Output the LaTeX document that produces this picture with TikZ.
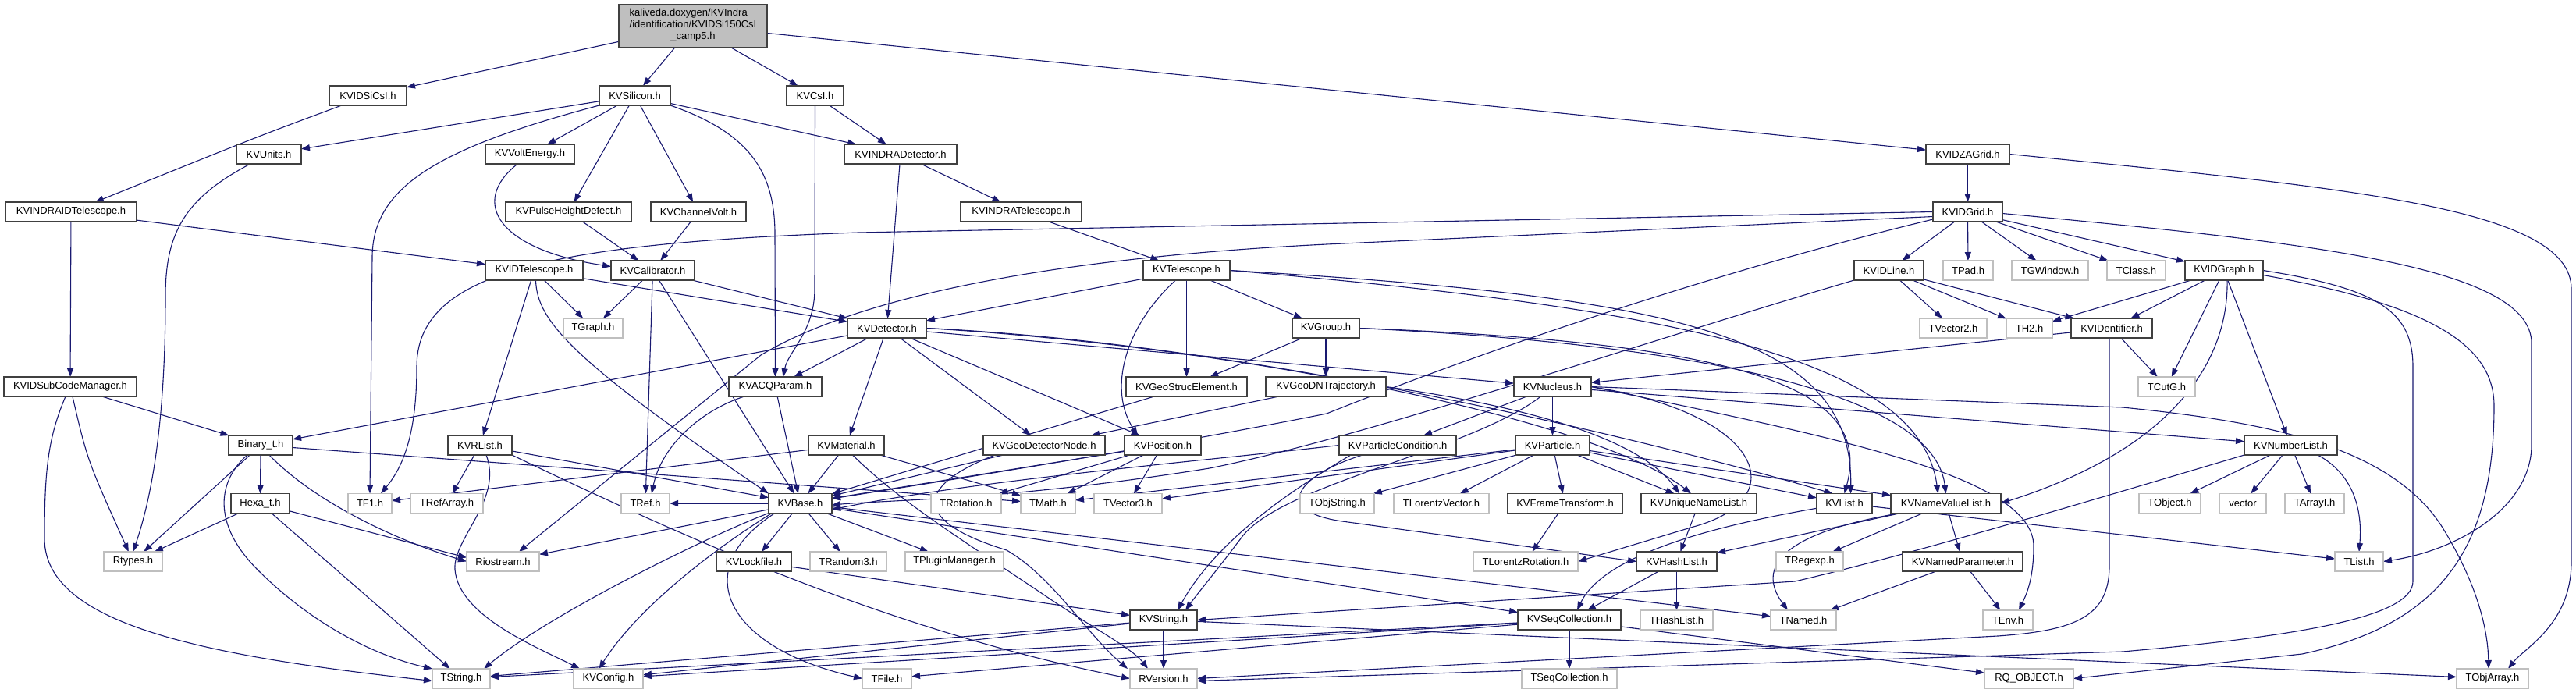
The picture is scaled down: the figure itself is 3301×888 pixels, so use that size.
\documentclass[tikz,border=0pt]{standalone}
\usepackage{fontspec}
\setmainfont{Liberation Sans}
\usetikzlibrary{arrows.meta,calc}
\definecolor{edgec}{HTML}{191970}
\definecolor{sysgray}{HTML}{BFBFBF}
\definecolor{kvdark}{HTML}{404040}
\pgfdeclarelayer{background}
\pgfsetlayers{background,main}
\newcommand{\mkn}[6]{%
  \pgfmathsetmacro{\mknw}{#3-#2}%
  \pgfmathsetmacro{\mknx}{(#2+#3)/2}%
  \node[#6, minimum width=\mknw pt] (#1) at (\mknx,#4) {#5};}
\begin{document}
\begin{tikzpicture}[x=1pt,y=-1pt,
  every node/.style={font=\fontsize{13}{15}\selectfont},
  kvn/.style={draw=kvdark, fill=white, line width=1.2pt, minimum height=25pt, inner sep=0pt, outer sep=0pt},
  sysn/.style={draw=sysgray, fill=white, line width=1.2pt, minimum height=25pt, inner sep=0pt, outer sep=0pt},
  lnk/.style={draw=edgec, line width=1.1pt, -{Triangle[length=11pt,width=8pt]}}]
\useasboundingbox (0,0) rectangle (3301,888);
\node[draw=kvdark, fill=sysgray, line width=1.2pt, minimum width=190pt, minimum height=55pt, inner sep=0pt] (main) at (888,33)
 {\begin{tabular}{@{}l@{}}kaliveda.doxygen/KVIndra\\/identification/KVIDSi150CsI\\\multicolumn{1}{@{}c@{}}{\_camp5.h}\end{tabular}};
% row 1
\mkn{sicsi}{422}{521}{122.5}{KVIDSiCsI.h}{kvn}
\mkn{silicon}{768}{859}{122.5}{KVSilicon.h}{kvn}
\mkn{csi}{1008}{1081}{122.5}{KVCsI.h}{kvn}
% row 2
\mkn{units}{303}{386}{197.5}{KVUnits.h}{kvn}
\mkn{volt}{622}{736}{197.5}{KVVoltEnergy.h}{kvn}
\mkn{indradet}{1082}{1226}{197.5}{KVINDRADetector.h}{kvn}
\mkn{zagrid}{2468}{2575}{197.5}{KVIDZAGrid.h}{kvn}
% row 3
\mkn{indraidtel}{7}{175}{271.5}{KVINDRAIDTelescope.h}{kvn}
\mkn{phd}{648}{809}{271.5}{KVPulseHeightDefect.h}{kvn}
\mkn{chvolt}{834}{956}{271.5}{KVChannelVolt.h}{kvn}
\mkn{indratel}{1231}{1386}{271.5}{KVINDRATelescope.h}{kvn}
\mkn{idgrid}{2477}{2566}{271.5}{KVIDGrid.h}{kvn}
% row 4
\mkn{idtel}{622}{747}{346.5}{KVIDTelescope.h}{kvn}
\mkn{calib}{783}{890}{346.5}{KVCalibrator.h}{kvn}
\mkn{tel}{1465}{1576}{346.5}{KVTelescope.h}{kvn}
\mkn{idline}{2376}{2465}{346.5}{KVIDLine.h}{kvn}
\mkn{tpad}{2490}{2554}{346.5}{TPad.h}{sysn}
\mkn{tgwin}{2578}{2676}{346.5}{TGWindow.h}{sysn}
\mkn{tclass}{2700}{2775}{346.5}{TClass.h}{sysn}
\mkn{idgraph}{2800}{2900}{346.5}{KVIDGraph.h}{kvn}
% row 5
\mkn{tgraph}{722}{798}{420.5}{TGraph.h}{sysn}
\mkn{det}{1086}{1187}{420.5}{KVDetector.h}{kvn}
\mkn{group}{1656}{1742}{420.5}{KVGroup.h}{kvn}
\mkn{tvec2}{2460}{2546}{420.5}{TVector2.h}{sysn}
\mkn{th2}{2571}{2630}{420.5}{TH2.h}{sysn}
\mkn{ident}{2654}{2758}{420.5}{KVIDentifier.h}{kvn}
% row 6
\mkn{subcode}{5}{175}{495.5}{KVIDSubCodeManager.h}{kvn}
\mkn{acq}{934}{1053}{495.5}{KVACQParam.h}{kvn}
\mkn{geostruc}{1443}{1598}{495.5}{KVGeoStrucElement.h}{kvn}
\mkn{geodn}{1622}{1776}{495.5}{KVGeoDNTrajectory.h}{kvn}
\mkn{nucleus}{1940}{2039}{495.5}{KVNucleus.h}{kvn}
\mkn{tcutg}{2740}{2813}{495.5}{TCutG.h}{sysn}
% row 7
\mkn{binary}{293}{375}{570.5}{Binary\_t.h}{kvn}
\mkn{rlist}{574}{656}{570.5}{KVRList.h}{kvn}
\mkn{material}{1036}{1133}{570.5}{KVMaterial.h}{kvn}
\mkn{geodetnode}{1260}{1416}{570.5}{KVGeoDetectorNode.h}{kvn}
\mkn{position}{1441}{1539}{570.5}{KVPosition.h}{kvn}
\mkn{partcond}{1716}{1866}{570.5}{KVParticleCondition.h}{kvn}
\mkn{particle}{1942}{2037}{570.5}{KVParticle.h}{kvn}
\mkn{numlist}{2876}{2995}{570.5}{KVNumberList.h}{kvn}
% row 8
\mkn{hexa}{296}{371}{645}{Hexa\_t.h}{kvn}
\mkn{tf1}{446}{502}{645}{TF1.h}{sysn}
\mkn{trefarr}{526}{619}{645}{TRefArray.h}{sysn}
\mkn{tref}{796}{858}{645}{TRef.h}{sysn}
\mkn{base}{985}{1066}{645}{KVBase.h}{kvn}
\mkn{trot}{1193}{1283}{645}{TRotation.h}{sysn}
\mkn{tmath}{1308}{1378}{645}{TMath.h}{sysn}
\mkn{tvec3}{1402}{1489}{645}{TVector3.h}{sysn}
\mkn{tobjstr}{1666}{1761}{645}{TObjString.h}{sysn}
\mkn{tlorvec}{1786}{1908}{645}{TLorentzVector.h}{sysn}
\mkn{frame}{1932}{2079}{645}{KVFrameTransform.h}{kvn}
\mkn{uniq}{2103}{2251}{645}{KVUniqueNameList.h}{kvn}
\mkn{kvlist}{2328}{2399}{645}{KVList.h}{kvn}
\mkn{nvl}{2423}{2564}{645}{KVNameValueList.h}{kvn}
\mkn{tobject}{2741}{2820}{645}{TObject.h}{sysn}
\mkn{vector}{2844}{2904}{645}{vector}{sysn}
\mkn{tarrayi}{2928}{3004}{645}{TArrayI.h}{sysn}
% row 9
\mkn{rtypes}{133}{208}{719.5}{Rtypes.h}{sysn}
\mkn{riostream}{598}{691}{719.5}{Riostream.h}{sysn}
\mkn{lockfile}{918}{1014}{719.5}{KVLockfile.h}{kvn}
\mkn{trandom}{1038}{1136}{719.5}{TRandom3.h}{sysn}
\mkn{tplugin}{1160}{1286}{719.5}{TPluginManager.h}{sysn}
\mkn{tlorrot}{1888}{2022}{719.5}{TLorentzRotation.h}{sysn}
\mkn{hashlist}{2097}{2200}{719.5}{KVHashList.h}{kvn}
\mkn{tregexp}{2276}{2362}{719.5}{TRegexp.h}{sysn}
\mkn{namedpar}{2438}{2592}{719.5}{KVNamedParameter.h}{kvn}
\mkn{tlist}{2992}{3054}{719.5}{TList.h}{sysn}
% row 10
\mkn{kvstring}{1448}{1534}{794.5}{KVString.h}{kvn}
\mkn{seqcoll}{1945}{2077}{794.5}{KVSeqCollection.h}{kvn}
\mkn{thashlist}{2102}{2195}{794.5}{THashList.h}{sysn}
\mkn{tnamed}{2269}{2353}{794.5}{TNamed.h}{sysn}
\mkn{tenv}{2541}{2605}{794.5}{TEnv.h}{sysn}
% row 11
\mkn{tstring}{554}{628}{869.5}{TString.h}{sysn}
\mkn{kvconfig}{735}{824}{869.5}{KVConfig.h}{sysn}
\mkn{tfile}{1105}{1168}{869.5}{TFile.h}{sysn}
\mkn{rversion}{1448}{1534}{869.5}{RVersion.h}{sysn}
\mkn{tseq}{1950}{2072}{869.5}{TSeqCollection.h}{sysn}
\mkn{rqobj}{2543}{2657}{869.5}{RQ\_OBJECT.h}{sysn}
\mkn{tobjarr}{3148}{3240}{869.5}{TObjArray.h}{sysn}

\begin{pgfonlayer}{background}
% main
\draw[lnk] (main) -- (sicsi);
\draw[lnk] (main) -- (silicon);
\draw[lnk] (main) -- (csi);
\draw[lnk] (main) -- (zagrid);
\draw[lnk] (sicsi) .. controls (330,175) .. (indraidtel);
\draw[lnk] (indraidtel) -- (subcode);
\draw[lnk] (indraidtel) -- (idtel);
% KVSilicon
\draw[lnk] (silicon) -- (units);
\draw[lnk] (silicon.south west) .. controls (560,190) and (477,240) .. (477,330) -- (tf1.north);
\draw[lnk] (silicon) -- (volt);
\draw[lnk] (silicon) -- (phd);
\draw[lnk] (silicon) -- (chvolt);
\draw[lnk] (silicon.south east) .. controls (960,170) and (993,220) .. (993,300) -- (acq.north);
\draw[lnk] (silicon) -- (indradet);
% KVCsI
\draw[lnk] (csi.south) -- (1044,370) .. controls (1044,425) and (1010,450) .. ($(acq.north)+(10,0)$);
\draw[lnk] (csi) -- (indradet);
% units, volt etc
\draw[lnk] (units) .. controls (235,255) and (212,300) .. (212,380) .. controls (212,560) and (190,650) .. (rtypes.north);
\draw[lnk] (volt) .. controls (600,260) and (640,320) .. ($(calib.west)+(0,-5)$);
\draw[lnk] (phd) -- (calib);
\draw[lnk] (chvolt) -- (calib);
\draw[lnk] (indradet) -- (det);
\draw[lnk] (indradet) -- (indratel);
\draw[lnk] (indratel) -- (tel);
% zagrid
\draw[lnk] (zagrid) -- (idgrid);
\draw[lnk] (zagrid.east) .. controls (3000,240) and (3295,265) .. (3295,370) -- (3295,720) .. controls (3295,800) and (3235,830) .. ($(tobjarr.north)+(20,0)$);
% idgrid
\draw[lnk] (idgrid) -- (idline);
\draw[lnk] (idgrid) -- (tpad);
\draw[lnk] (idgrid) -- (tgwin);
\draw[lnk] (idgrid) -- (tclass);
\draw[lnk] (idgrid) -- (idgraph);
\draw[lnk] ($(idgrid.east)+(0,2)$) .. controls (2950,310) and (3244,340) .. (3244,440) -- (3244,570) .. controls (3244,650) and (3150,705) .. (tlist.east);
\draw[lnk] (idgrid.west) -- (1100,298) .. controls (700,312) and (534,350) .. (534,470) .. controls (534,560) and (515,600) .. ($(tf1.north)+(14,0)$);
\draw[lnk] ($(idgrid.west)+(0,6)$) -- (1700,313) .. controls (1350,330) and (1100,380) .. (975,455) -- ($(riostream.north east)+(-26,0)$);
\draw[lnk] ($(idgrid.south west)+(0,-3)$) .. controls (2150,360) and (1850,470) .. (1700,530) .. controls (1500,570) and (1250,610) .. ($(base.east)+(0,-6)$);
% idline
\draw[lnk] (idline) -- (tvec2);
\draw[lnk] (idline) -- (th2);
\draw[lnk] (idline) -- (ident);
\draw[lnk] (idline.south west) .. controls (2100,440) and (1750,560) .. (1550,600) .. controls (1300,640) and (1150,640) .. ($(base.east)+(0,2)$);
% idgraph
\draw[lnk] (idgraph) -- (ident);
\draw[lnk] (idgraph) -- (th2);
\draw[lnk] (idgraph) -- (tcutg);
\draw[lnk] (idgraph) -- (numlist);
\draw[lnk] ($(idgraph.south)+(4,0)$) .. controls (2856,450) and (2800,570) .. (nvl.east);
\draw[lnk] (idgraph.east) .. controls (3050,370) and (3092,400) .. (3092,470) -- (3092,745) .. controls (3092,790) and (2950,815) .. (2720,835) -- ($(rversion.east)+(0,3)$);
\draw[lnk] ($(idgraph.east)+(0,6)$) .. controls (3110,390) and (3196,440) .. (3196,520) .. controls (3196,700) and (3130,800) .. (2950,838) -- (rqobj.east);
% ident
\draw[lnk] (ident) -- (nucleus);
\draw[lnk] (ident) -- (tcutg);
\draw[lnk] ($(ident.south)+(-3,0)$) -- (2703,725) .. controls (2703,790) and (2660,808) .. (2560,815) -- (rversion.east);
% idtel, calib
\draw[lnk] (idtel) -- (rlist);
\draw[lnk] ($(idtel.south)+(2,0)$) .. controls (688,410) and (730,460) .. (base.north west);
\draw[lnk] (idtel) -- (tgraph);
\draw[lnk] (idtel) -- (det);
\draw[lnk] (calib) -- (tgraph);
\draw[lnk] (calib) -- (det);
\draw[lnk] (calib) -- (tref);
\draw[lnk] (calib) -- (base);
% subcode
\draw[lnk] (subcode) -- (binary);
\draw[lnk] (subcode) .. controls (112,590) .. (rtypes);
\draw[lnk] ($(subcode.south)+(-6,0)$) .. controls (62,560) and (57,600) .. (57,690) .. controls (57,800) and (260,840) .. ($(tstring.west)+(0,3)$);
% binary, hexa
\draw[lnk] (binary) -- (rtypes);
\draw[lnk] (binary) -- (hexa);
\draw[lnk] ($(binary.south)+(-17,0)$) .. controls (280,615) and (270,670) .. (330,730) .. controls (400,800) and (480,840) .. (tstring.north west);
\draw[lnk] ($(binary.south)+(11,0)$) .. controls (400,640) and (500,690) .. (riostream.west);
\draw[lnk] (binary) -- (tmath);
\draw[lnk] (hexa) -- (rtypes);
\draw[lnk] (hexa) -- (tstring);
\draw[lnk] (hexa) -- ($(riostream.west)+(0,-5)$);
% rlist, acq
\draw[lnk] (rlist) -- (trefarr);
\draw[lnk] ($(rlist.south)+(8,0)$) .. controls (645,640) and (580,690) .. (583,730) .. controls (588,790) and (690,830) .. ($(kvconfig.north west)+(8,0)$);
\draw[lnk] (rlist.south east) .. controls (900,700) and (1150,810) .. (rversion.west);
\draw[lnk] (rlist) -- (base);
\draw[lnk] (acq) -- (base);
\draw[lnk] (acq) .. controls (900,525) and (848,570) .. ($(tref.north)+(8,0)$);
% det
\draw[lnk] (det) -- (binary);
\draw[lnk] (det) -- (acq);
\draw[lnk] (det) -- (material);
\draw[lnk] (det) -- (geodetnode);
\draw[lnk] (det) -- (position);
\draw[lnk] (det) -- (nucleus);
\draw[lnk] (det.east) .. controls (1600,440) and (2100,560) .. ($(kvlist.north)+(-15,0)$);
\draw[lnk] (det.east) .. controls (1600,445) and (2050,540) .. ($(uniq.north)+(-10,0)$);
% tel, group
\draw[lnk] (tel) -- (det);
\draw[lnk] ($(tel.south)+(-14,0)$) .. controls (1440,420) and (1420,500) .. ($(position.north)+(-32,0)$);
\draw[lnk] (tel) -- (geostruc);
\draw[lnk] (tel) -- (group);
\draw[lnk] (tel.east) .. controls (2150,380) and (2375,430) .. ($(kvlist.north)+(8,0)$);
\draw[lnk] (tel.east) .. controls (2150,395) and (2460,460) .. ($(nvl.north)+(-10,0)$);
\draw[lnk] (group) -- (geostruc);
\draw[lnk] (group) -- (geodn);
\draw[lnk] (group.east) .. controls (2250,440) and (2400,500) .. (kvlist.north);
\draw[lnk] (group.east) .. controls (2250,445) and (2480,520) .. (nvl.north);
% geo
\draw[lnk] (geostruc) -- (base);
\draw[lnk] (geodn) -- (geodetnode);
\draw[lnk] (geodn.east) .. controls (1950,520) and (2100,560) .. ($(uniq.north)+(-25,0)$);
\draw[lnk] (geodetnode) -- (base);
\draw[lnk] ($(geodetnode.south west)+(15,0)$) .. controls (1180,620) and (1160,665) .. (1290,705) .. controls (1350,740) and (1390,810) .. ($(rversion.north west)+(-3,0)$);
% position, material
\draw[lnk] (position) -- (trot);
\draw[lnk] (position) -- (tmath);
\draw[lnk] (position) -- (tvec3);
\draw[lnk] (position) -- (base);
\draw[lnk] (material) -- (base);
\draw[lnk] (material) -- (tf1);
\draw[lnk] (material) -- (tmath);
\draw[lnk] ($(material.south)+(8,0)$) .. controls (1150,640) and (1230,690) .. (1330,757) .. controls (1400,805) and (1450,830) .. ($(rversion.north)+(-20,0)$);
% base
\draw[lnk] (base) -- (lockfile);
\draw[lnk] (base) -- (trandom);
\draw[lnk] (base) -- (tplugin);
\draw[lnk] (base) -- (riostream);
\draw[lnk] (base) -- (tref);
\draw[lnk] (base) -- (tnamed);
\draw[lnk] (base) -- (seqcoll);
\draw[lnk] (base.south west) .. controls (900,690) and (700,790) .. ($(tstring.north east)+(-8,0)$);
\draw[lnk] ($(base.south west)+(4,0)$) .. controls (890,720) and (810,790) .. ($(kvconfig.north)+(-12,0)$);
\draw[lnk] ($(base.south west)+(8,0)$) .. controls (880,730) and (930,830) .. (tfile.west);
% lockfile, kvstring, seqcoll
\draw[lnk] (lockfile) -- (kvstring);
\draw[lnk] (kvstring) -- (rversion);
\draw[lnk] (kvstring) -- (tstring);
\draw[lnk] (kvstring) -- (kvconfig);
\draw[lnk] (kvstring) -- (tobjarr);
\draw[lnk] (seqcoll) -- (tseq);
\draw[lnk] (seqcoll) -- (tfile);
\draw[lnk] (seqcoll) -- (rqobj);
\draw[lnk] (seqcoll) -- (tstring);
\draw[lnk] (seqcoll) -- (kvconfig);
% nucleus
\draw[lnk] (nucleus) -- (partcond);
\draw[lnk] (nucleus) -- (particle);
\draw[lnk] (nucleus) -- (numlist);
\draw[lnk] (nucleus.east) -- (2720,522) .. controls (2900,540) and (3060,570) .. (3128,673) .. controls (3170,740) and (3188,800) .. ($(tobjarr.north)+(-5,0)$);
\draw[lnk] ($(nucleus.south)+(-15,0)$) .. controls (1880,580) and (1640,620) .. (1590,690) .. controls (1560,730) and (1535,760) .. ($(kvstring.north)+(28,0)$);
\draw[lnk] (nucleus.east) .. controls (2350,560) and (2606,610) .. (2606,700) .. controls (2606,745) and (2595,765) .. ($(tenv.north)+(14,0)$);
\draw[lnk] (nucleus.east) .. controls (2260,530) and (2300,640) .. (2170,675) -- (tlorrot.east);
% particle
\draw[lnk] (particle) -- (tobjstr);
\draw[lnk] (particle) -- (tlorvec);
\draw[lnk] (particle) -- (frame);
\draw[lnk] (particle) -- (uniq);
\draw[lnk] (particle) -- (kvlist);
\draw[lnk] (particle) -- (nvl);
\draw[lnk] (particle) -- (tvec3);
\draw[lnk] (particle) -- (tmath);
% partcond
\draw[lnk] ($(partcond.south)+(-45,0)$) .. controls (1660,610) and (1630,655) .. (1720,668) -- (hashlist.west);
\draw[lnk] ($(partcond.south)+(-60,0)$) .. controls (1660,625) and (1560,690) .. ($(kvstring.north)+(18,0)$);
\draw[lnk] (partcond.west) .. controls (1550,590) and (1250,615) .. ($(base.east)+(0,8)$);
% lists
\draw[lnk] (frame) -- (tlorrot);
\draw[lnk] (uniq) -- (hashlist);
\draw[lnk] (kvlist) .. controls (2250,665) and (2060,700) .. ($(seqcoll.north)+(10,0)$);
\draw[lnk] (kvlist) -- (tlist);
\draw[lnk] (nvl) -- (hashlist);
\draw[lnk] ($(nvl.south west)+(12,0)$) .. controls (2300,680) and (2245,720) .. ($(tnamed.north)+(-20,0)$);
\draw[lnk] (nvl) -- (tregexp);
\draw[lnk] (nvl) -- (namedpar);
\draw[lnk] (namedpar) -- (tnamed);
\draw[lnk] (namedpar) -- (tenv);
\draw[lnk] (hashlist) -- (thashlist);
\draw[lnk] (hashlist) -- (seqcoll);
% numlist
\draw[lnk] (numlist) -- (tobject);
\draw[lnk] (numlist) -- (vector);
\draw[lnk] (numlist) -- (tarrayi);
\draw[lnk] ($(numlist.south east)+(-25,0)$) .. controls (3020,610) and (3027,660) .. (tlist.north);
\draw[lnk] (numlist.south west) .. controls (2650,650) and (2450,710) .. (2300,745) -- (kvstring.east);
\end{pgfonlayer}
\end{tikzpicture}
\end{document}
